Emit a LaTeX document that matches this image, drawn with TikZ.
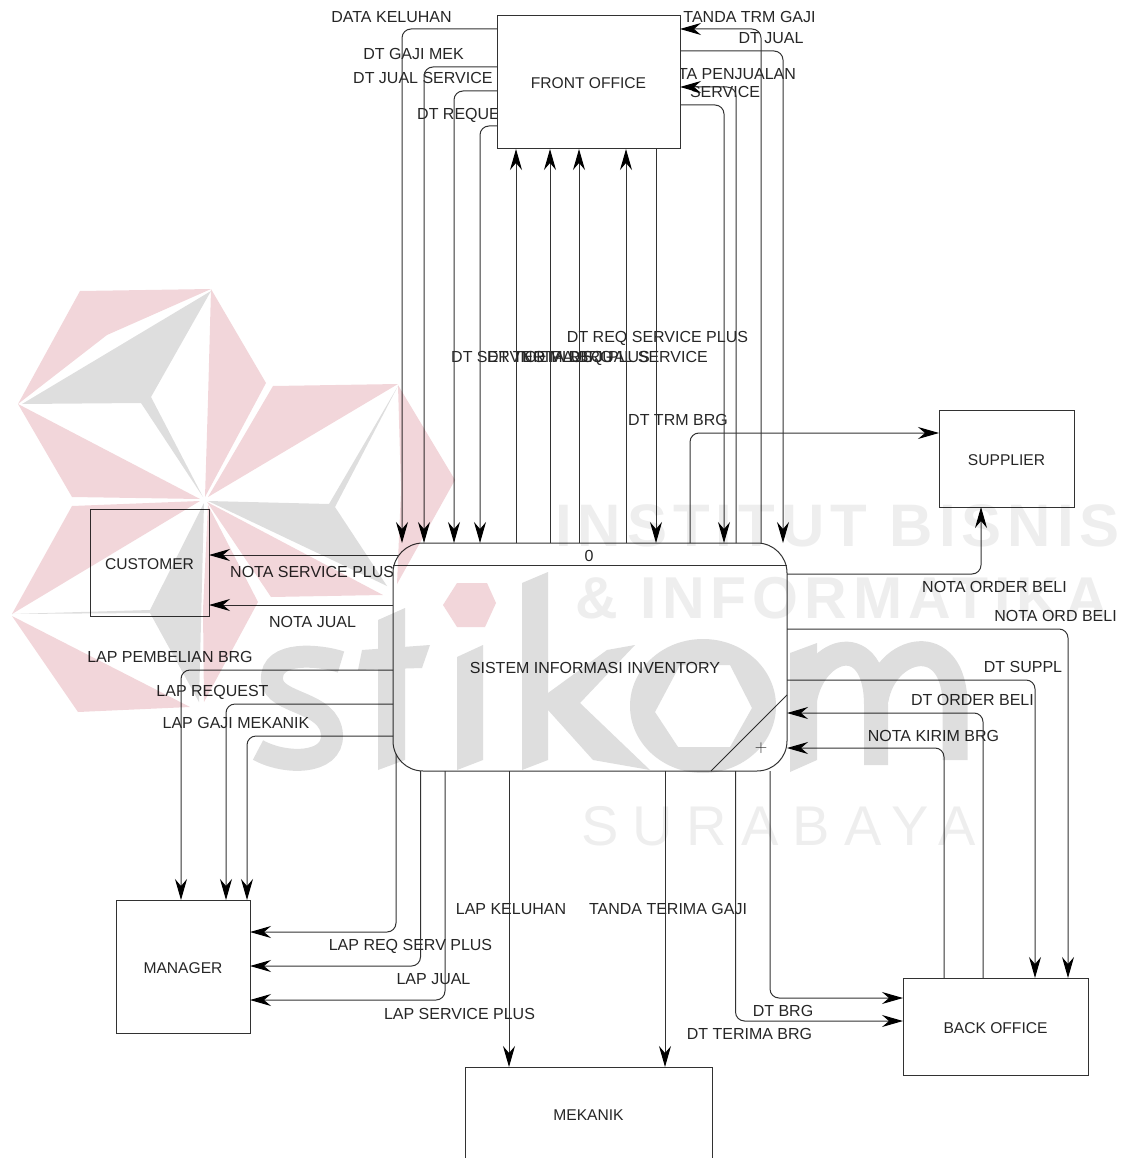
\documentclass[tikz,border=0pt]{standalone}
\usepackage{fontspec}
\usepackage{xcolor}
\setmainfont{Liberation Sans}
\newfontfamily\wmbold[LetterSpace=10]{Liberation Sans}
\newfontfamily\wmthin[LetterSpace=25]{Liberation Sans}
\usepackage{tikz}
\usetikzlibrary{positioning,arrows.meta}
\definecolor{wmpink}{RGB}{242,214,218}
\definecolor{wmgray}{RGB}{222,222,222}
\definecolor{wmtext}{RGB}{238,238,238}
\definecolor{ink}{RGB}{50,50,50}

\begin{document}
\begin{tikzpicture}[x=1pt,y=-1pt,font=\fontsize{16}{18}\selectfont,text=black!85,>={Stealth[length=21pt,width=12pt,inset=7pt,color=black]},
  entbox/.style={draw=ink,line width=1pt,fill=white,inner sep=0pt,outer sep=0pt,align=center,text height=13pt,text depth=0pt,font=\fontsize{15.6}{18}\selectfont},
  procbox/.style={draw=ink,line width=1pt,fill=white,rounded corners=30pt,inner sep=0pt,outer sep=0pt},
  flow/.style={->,draw=ink,line width=1pt,rounded corners=9pt},
  lbl/.style={inner sep=0pt,align=center,text height=13pt,text depth=0pt},
  wmword/.style={inner sep=0pt,text=wmtext,anchor=base west}]
  \useasboundingbox (0,0) rectangle (1121,1158);
  \node[lbl] (ldatakel) at (391.5,16) {DATA KELUHAN};
  \node[lbl] (lgajimek) at (413.5,53) {DT GAJI MEK};
  \node[lbl,anchor=west] (ljualserv) at (353,77) {DT JUAL SERVICE PLUS};
  \node[lbl,anchor=west] (lrequest) at (417,113) {DT REQUEST};
  \node[lbl] (ltandatrm) at (749.5,16) {TANDA TRM GAJI};
  \node[lbl] (ldtjual) at (771,37) {DT JUAL};
  \node[inner sep=0pt,align=center] (lnotapenj) at (725,83) {NOTA PENJUALAN\\SERVICE};
  \node[lbl] (lreqserv) at (657.5,336) {DT REQ SERVICE PLUS};
  \node[lbl,anchor=west] (lservplus) at (451,356) {DT SERVICE PLUS};
  \node[lbl,anchor=west] (ltrmbrg) at (487,356) {DT TERIMA BRG};
  \node[lbl,anchor=west] (lreqplus) at (521,356) {NOTA REQ PLUS};
  \node[lbl,anchor=east] (ljualsrv) at (708,356) {DT JUAL SERVICE};
  \node[lbl] (ldttrm) at (678,419) {DT TRM BRG};
  \node[lbl,anchor=west] (lnotaserv) at (230,571) {NOTA SERVICE PLUS};
  \node[lbl] (lnotajual) at (312.5,621) {NOTA JUAL};
  \node[lbl] (llapbeli) at (170,656) {LAP PEMBELIAN BRG};
  \node[lbl] (llapreq) at (212.5,690) {LAP REQUEST};
  \node[lbl] (llapgaji) at (236,722) {LAP GAJI MEKANIK};
  \node[lbl] (lnotaorder) at (994.5,586) {NOTA ORDER BELI};
  \node[lbl] (lnotaord) at (1055.5,615) {NOTA ORD BELI};
  \node[lbl] (ldtsuppl) at (1023,666) {DT SUPPL};
  \node[lbl] (ldtorder) at (972.5,699) {DT ORDER BELI};
  \node[lbl] (lnotakirim) at (933.5,735) {NOTA KIRIM BRG};
  \node[lbl] (llapkel) at (511,908) {LAP KELUHAN};
  \node[lbl] (ltandagaji) at (668,908) {TANDA TERIMA GAJI};
  \node[lbl] (llapreqserv) at (410.5,944) {LAP REQ SERV PLUS};
  \node[lbl] (llapjual) at (433.5,978) {LAP JUAL};
  \node[lbl] (llapserv) at (459.5,1013) {LAP SERVICE PLUS};
  \node[lbl] (ldtbrg) at (783,1010) {DT BRG};
  \node[lbl] (ldtterima) at (749.5,1033) {DT TERIMA BRG};

  \node[procbox,minimum width=394pt,minimum height=228pt] (sis) at (590,657) {};
  \node[lbl] (sisnama) at (595,667) {SISTEM INFORMASI INVENTORY};
  \node[lbl] (sisnomor) at (589,555) {0};
  \node[inner sep=0pt,font=\fontsize{17}{17}\selectfont] (sisplus) at (761,748) {$+$};
  \draw[draw=ink,line width=1pt] ([yshift=-22pt]sis.north west) -- ([yshift=-22pt]sis.north east);
  \draw[draw=ink,line width=1pt] ([yshift=76pt]sis.south east) -- ([xshift=318pt]sis.south west);
  \node[entbox,minimum width=183pt,minimum height=133pt,above=394pt of sis,xshift=-1.5pt] (fo) {FRONT OFFICE};
  \node[entbox,minimum width=135pt,minimum height=97pt,above right=36pt and 152pt of sis.north east] (sup) {SUPPLIER};
  \node[entbox,minimum width=119pt,minimum height=107pt,left=184pt of sis,yshift=94.5pt] (cust) {CUSTOMER};
  \node[entbox,minimum width=134pt,minimum height=133pt,below left=129pt and 143pt of sis.south west] (mgr) {MANAGER};
  \node[entbox,minimum width=185pt,minimum height=97pt,below right=207pt and 116pt of sis.south east] (bo) {BACK OFFICE};
  \node[entbox,minimum width=247pt,minimum height=94pt,below=296pt of sis,xshift=-1.5pt] (mek) {MEKANIK};

  \draw[flow] ([yshift=-13pt]fo.north west) -| ([xshift=9pt]sis.north west);
  \draw[flow] ([yshift=-51pt]fo.north west) -| ([xshift=31pt]sis.north west);
  \draw[flow] ([yshift=-75pt]fo.north west) -| ([xshift=61pt]sis.north west);
  \draw[flow] ([yshift=-110pt]fo.north west) -| ([xshift=87pt]sis.north west);
  \draw[flow] ([xshift=123pt]sis.north west) -- ([xshift=19pt]fo.south west);
  \draw[flow] ([xshift=157pt]sis.north west) -- ([xshift=53pt]fo.south west);
  \draw[flow] ([xshift=186pt]sis.north west) -- ([xshift=82pt]fo.south west);
  \draw[flow] ([xshift=233pt]sis.north west) -- ([xshift=129pt]fo.south west);
  \draw[flow] ([xshift=159pt]fo.south west) -- ([xshift=263pt]sis.north west);
  \draw[flow] ([xshift=368pt]sis.north west) |- ([yshift=-13pt]fo.north east);
  \draw[flow] ([yshift=-35pt]fo.north east) -| ([xshift=390pt]sis.north west);
  \draw[flow] ([xshift=343pt]sis.north west) |- ([yshift=-71pt]fo.north east);
  \draw[flow] ([yshift=-89pt]fo.north east) -| ([xshift=331pt]sis.north west);
  \draw[flow] ([xshift=297pt]sis.north west) |- ([yshift=-23pt]sup.north west);
  \draw[flow] ([yshift=-31pt]sis.north east) -| ([xshift=42pt]sup.south west);
  \draw[flow] ([yshift=-86pt]sis.north east) -| ([xshift=165pt]bo.north west);
  \draw[flow] ([yshift=-137pt]sis.north east) -| ([xshift=132pt]bo.north west);
  \draw[flow] ([xshift=80pt]bo.north west) |- ([yshift=-170pt]sis.north east);
  \draw[flow] ([xshift=41pt]bo.north west) |- ([yshift=-205pt]sis.north east);
  \draw[flow] ([xshift=377pt]sis.south west) |- ([yshift=-20pt]bo.north west);
  \draw[flow] ([xshift=342.5pt]sis.south west) |- ([yshift=-43pt]bo.north west);
  \draw[flow] ([xshift=272pt]sis.south west) -- ([xshift=200pt]mek.north west);
  \draw[flow] ([xshift=116pt]sis.south west) -- ([xshift=44pt]mek.north west);
  \draw[flow] ([xshift=5pt,yshift=-12pt]sis.north west) -- ([yshift=-46pt]cust.north east);
  \draw[flow] ([yshift=-62pt]sis.north west) -- ([yshift=-96pt]cust.north east);
  \draw[flow] ([yshift=-127pt]sis.north west) -| ([xshift=65pt]mgr.north west);
  \draw[flow] ([yshift=-161pt]sis.north west) -| ([xshift=110pt]mgr.north west);
  \draw[flow] ([yshift=-193pt]sis.north west) -| ([xshift=131pt]mgr.north west);
  \draw[flow] ([xshift=3pt,yshift=17pt]sis.south west) |- ([yshift=-32pt]mgr.north east);
  \draw[flow] ([xshift=27.5pt]sis.south west) |- ([yshift=-66pt]mgr.north east);
  \draw[flow] ([xshift=52pt]sis.south west) |- ([yshift=-100pt]mgr.north east);

  \begin{scope}[blend mode=multiply]
  \begin{scope}[transparency group]
    \fill[wmpink] (80,291) -- (211,289) -- (107,335) -- (18,404) -- cycle;
    \fill[wmgray] (22,404) -- (211,291) -- (151,397) -- (203,497) -- (141,403) -- cycle;
    \fill[wmpink] (211,289) -- (266,383) -- (205,497) -- (208,400) -- cycle;
    \fill[wmpink] (18,404) -- (72,497) -- (200,499) -- cycle;
    \fill[wmpink] (273,386) -- (398,384) -- (208,497) -- cycle;
    \fill[wmgray] (208,501) -- (329,504) -- (398,386) -- (335,507) -- (387,586) -- cycle;
    \fill[wmpink] (398,385) -- (455,480) -- (397,584) -- (401,490) -- cycle;
    \fill[wmpink] (207,502) -- (383,595) -- (271,597) -- cycle;
    \fill[wmpink] (72,506) -- (200,501) -- (12,614) -- cycle;
    \fill[wmgray] (12,614) -- (150,610) -- (204,503) -- (199,702) -- (150,613) -- cycle;
    \fill[wmpink] (208,505) -- (258,602) -- (204,702) -- (203,610) -- cycle;
    \fill[wmpink] (12,616) -- (190,707) -- (78,712) -- cycle;
    \draw[wmgray,line width=22pt] (341,662) .. controls (320,655) and (270,650) .. (272,680) .. controls (274,705) and (330,700) .. (332,735) .. controls (333,765) and (285,765) .. (258,750);
    \fill[wmgray] (378,620) -- (405,608) -- (405,760) -- (378,770) -- cycle;
    \fill[wmgray] (362,650) -- (430,645) -- (422,668) -- (358,670) -- cycle;
    \fill[wmgray] (457,657) -- (483,645) -- (483,760) -- (457,770) -- cycle;
    \fill[wmpink] (443,605) -- (457,583) -- (487,583) -- (496,603) -- (485,627) -- (457,627) -- cycle;
    \fill[wmgray] (522,583) -- (548,572) -- (548,760) -- (522,770) -- cycle;
    \fill[wmgray] (548,693) -- (607,650) -- (635,645) -- (580,703) -- (650,770) -- (593,760) -- (548,710) -- cycle;
    \fill[wmgray,even odd rule] (703,706) ellipse [x radius=73pt,y radius=67pt] (655,712) -- (680,665) -- (730,665) -- (752,708) -- (730,747) -- (678,747) -- cycle;
    \fill[wmgray] (790,653) -- (817,643) -- (817,760) -- (790,772) -- cycle;
    \draw[wmgray,line width=24pt] (805,700) .. controls (815,645) and (876,630) .. (876,705) -- (876,765);
    \draw[wmgray,line width=25pt] (876,700) .. controls (885,645) and (955,630) .. (955,705) -- (955,760);
    \node[wmword,font=\fontsize{60}{60}\selectfont\wmbold\bfseries] (wminstitut) at (555,546) {INSTITUT BISNIS};
    \node[wmword,font=\fontsize{59}{60}\selectfont\wmbold\bfseries] (wminfo) at (575,618) {\& INFORMATIKA};
    \node[wmword,font=\fontsize{56}{56}\selectfont\wmthin] (wmsurabaya) at (581,845) {SURABAYA};
  \end{scope}
  \end{scope}
\end{tikzpicture}
\end{document}
